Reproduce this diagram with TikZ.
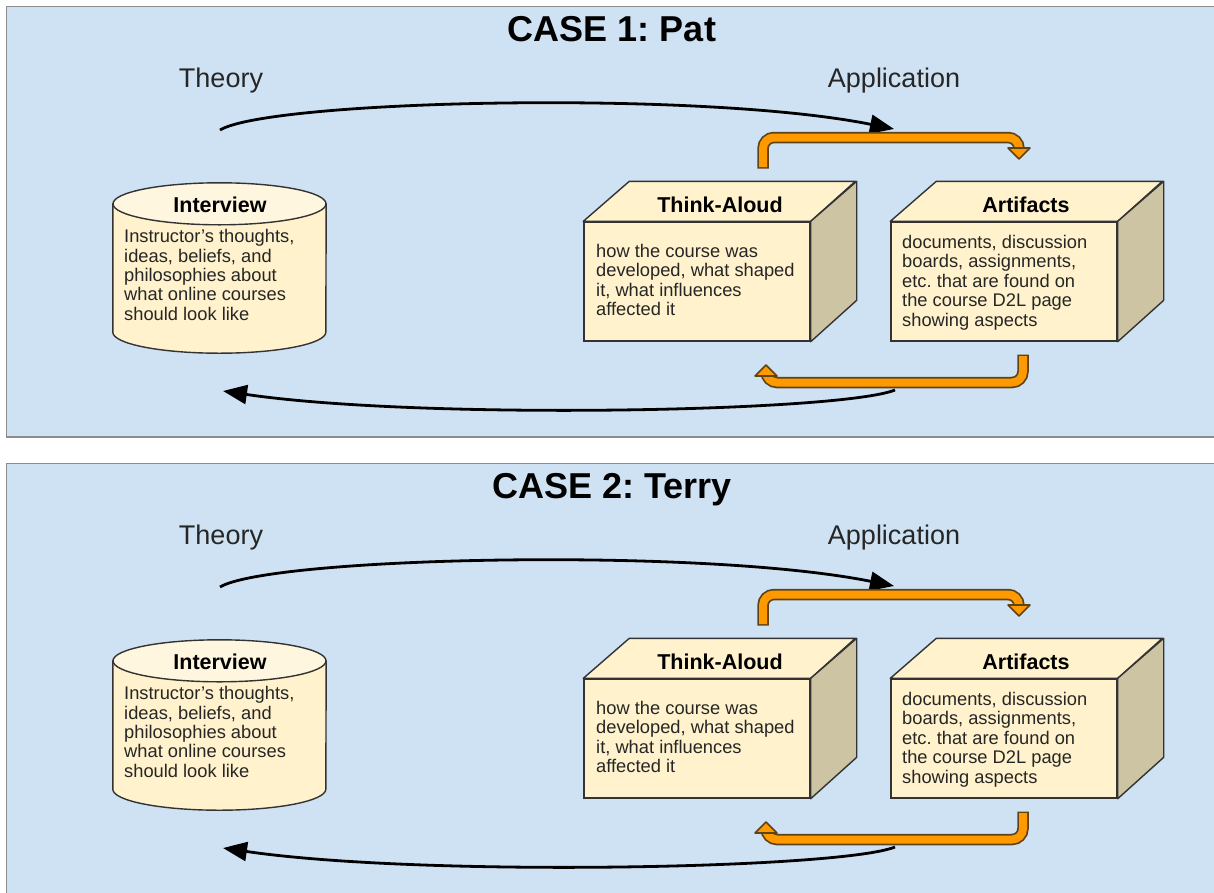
\documentclass[tikz,border=0pt]{standalone}
\usepackage{fontspec}
\setmainfont{Liberation Sans}
\usetikzlibrary{arrows.meta,calc}
\definecolor{panelblue}{HTML}{CFE2F3}
\definecolor{paneledge}{HTML}{8C8C8C}
\definecolor{boxfill}{HTML}{FFF2CC}
\definecolor{cyltop}{HTML}{FFF6E0}
\definecolor{boxside}{HTML}{CDC4A3}
\definecolor{boxedge}{HTML}{333333}
\definecolor{ora}{HTML}{FF9900}
\definecolor{oraedge}{HTML}{5E4318}
\definecolor{txt}{HTML}{262626}
\frenchspacing
\tikzset{
  panel/.style={fill=panelblue, draw=paneledge, line width=1.6pt},
  casetitle/.style={font=\fontsize{36}{40}\selectfont\bfseries, text=black, inner sep=0pt},
  sidelabel/.style={font=\fontsize{27}{30}\selectfont, text=txt, inner sep=0pt},
  boxtitle/.style={font=\fontsize{21.5}{25}\selectfont\bfseries, text=black, inner sep=0pt},
  boxtext/.style={font=\fontsize{18.3}{19.4}\selectfont, text=txt, align=left, inner sep=0pt},
  front/.style={draw=boxedge, fill=boxfill, line width=1.4pt, minimum width=226pt, minimum height=119pt, inner sep=0pt},
  face/.style={draw=boxedge, line width=1.4pt, line join=round},
  bigarrow/.style={line width=2.8pt, -{Triangle[length=24pt,width=19pt]}},
  oraout/.style={draw=oraedge, line width=11.5pt, rounded corners=11pt},
  orain/.style={draw=ora, line width=8pt, rounded corners=11pt},
  orahead/.style={fill=ora, draw=oraedge, line width=1.6pt, line join=round},
}
\newcommand{\casepanel}[2]{%
  % panel
  \draw[panel] (6.5,6.5) rectangle (1225,437);
  \node[casetitle, anchor=base] (ct#2) at (612,41) {#1};
  \node[sidelabel, anchor=base] (th#2) at (221,87) {Theory};
  \node[sidelabel, anchor=base] (ap#2) at (894,87) {Application};
  % interview cylinder
  \node[minimum width=213pt, minimum height=128pt, inner sep=0pt] (iv#2) at (219.5,268) {};
  \draw[face, fill=boxfill] (iv#2.north west) -- (iv#2.south west)
     arc[start angle=180, end angle=360, x radius=106.5pt, y radius=21pt] -- (iv#2.north east) -- cycle;
  \draw[face, fill=cyltop] (iv#2.north) ellipse [x radius=106.5pt, y radius=21pt];
  \node[boxtitle, anchor=base] (ivh#2) at (220,212) {Interview};
  \node[boxtext, anchor=west] (ivt#2) at (124,275) {Instructor’s thoughts,\\ideas, beliefs, and\\philosophies about\\what online courses\\should look like};
  % think-aloud box
  \node[front] (ta#2) at (697,281.5) {};
  \draw[face, fill=boxfill] (ta#2.north west) -- ++(46,-40) -- ++(226,0) -- (ta#2.north east) -- cycle;
  \draw[face, fill=boxside] (ta#2.north east) -- ++(46,-40) -- ++(0,119) -- (ta#2.south east) -- cycle;
  \node[boxtitle, anchor=base] (tah#2) at (720,212) {Think-Aloud};
  \node[boxtext, anchor=west] (tat#2) at (596,280) {how the course was\\developed, what shaped\\it, what influences\\affected it};
  % artifacts box
  \node[front] (ar#2) at (1004,281.5) {};
  \draw[face, fill=boxfill] (ar#2.north west) -- ++(46,-40) -- ++(226,0) -- (ar#2.north east) -- cycle;
  \draw[face, fill=boxside] (ar#2.north east) -- ++(46,-40) -- ++(0,119) -- (ar#2.south east) -- cycle;
  \node[boxtitle, anchor=base] (arh#2) at (1026,212) {Artifacts};
  \node[boxtext, anchor=west] (art#2) at (902,282.5) {documents, discussion\\boards, assignments,\\etc. that are found on\\the course D2L page\\showing aspects};
  % black curved arrows
  \coordinate (thS#2) at (220,130);
  \coordinate (apE#2) at (894,129);
  \draw[bigarrow] (thS#2) .. controls (270,100) and (700,90) .. (apE#2);
  \coordinate (apS#2) at (895,390);
  \coordinate (thE#2) at (223,391);
  \draw[bigarrow] (apS#2) .. controls (840,412) and (420,420) .. (thE#2);
  % orange connectors
  \coordinate (o1s#2) at (763,167);
  \coordinate (o1b#2) at (1019,148);
  \coordinate (o1t#2) at (1019,159);
  \draw[oraout] ($(o1s#2)+(0,1.5)$) |- (1019,137.5) -- (o1b#2);
  \draw[orain] (o1s#2) |- (1019,137.5) -- (o1b#2);
  \draw[orahead] ($(o1b#2)+(-11,0)$) -- (o1t#2) -- ($(o1b#2)+(11,0)$) -- cycle;
  \coordinate (o2s#2) at (1023,356);
  \coordinate (o2b#2) at (766,376);
  \coordinate (o2t#2) at (766,365);
  \draw[oraout] ($(o2s#2)+(0,-1.5)$) |- (766,382.5) -- (o2b#2);
  \draw[orain] (o2s#2) |- (766,382.5) -- (o2b#2);
  \draw[orahead] ($(o2b#2)+(-11,0)$) -- (o2t#2) -- ($(o2b#2)+(11,0)$) -- cycle;
}
\begin{document}
\begin{tikzpicture}[x=1pt,y=-1pt]
  \useasboundingbox (0,0) rectangle (1214,892);
  \clip (0,0) rectangle (1214,892);
  \fill[white] (0,0) rectangle (1214,892);
  \casepanel{CASE 1: Pat}{a}
  \begin{scope}[yshift=-457pt]
    \casepanel{CASE 2: Terry}{b}
  \end{scope}
\end{tikzpicture}
\end{document}
